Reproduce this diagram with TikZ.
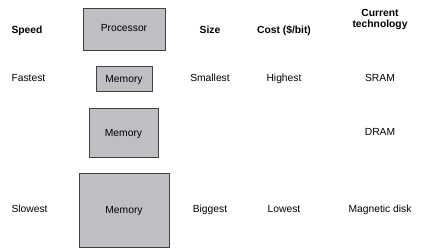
\documentclass[tikz,border=0pt]{standalone}
\usepackage{fontspec}
\setmainfont{Liberation Sans}
\definecolor{boxgray}{RGB}{191,191,195}
\tikzset{
  membox/.style={draw=black!75,fill=boxgray,line width=0.8pt,inner sep=0pt},
  head/.style={font=\fontsize{10.3}{11.5}\selectfont\bfseries,align=center,text height=7.5pt,text depth=0pt},
  lbl/.style={font=\fontsize{10.3}{12}\selectfont,text height=7.5pt,text depth=0pt}
}
\begin{document}
\begin{tikzpicture}[x=1pt,y=-1pt,line join=round]
			\useasboundingbox (0,0) rectangle (428,250);
			% boxes
			\node[membox,minimum width=82pt,minimum height=42pt] (proc) at (124,29) {};
			\node[lbl] at (proc.center) [yshift=1.5pt] {Processor};
			\node[membox,minimum width=56pt,minimum height=25pt,lbl] (memA) at (124,78.5) {Memory};
			\node[membox,minimum width=69pt,minimum height=49pt] (memB) at (123.5,132.5) {};
			\node[lbl] (memBt) at (memB.center) {Memory};
			\node[membox,minimum width=90pt,minimum height=74pt,lbl] (memC) at (124,210) {Memory};
			% column heads
			\node[head,anchor=west] (speed) at (8,30) {Speed};
			\node[head] (size) at (210,30) {Size};
			\node[head] (cost) at (284,30) {Cost (\$/bit)};
			\node[head] (tech) at (380,24) {Current\\technology};
			% rows
			\node[lbl,anchor=west] (fast) at (8,78) {Fastest};
			\node[lbl] (small) at (210,78) {Smallest};
			\node[lbl] (high) at (284,78) {Highest};
			\node[lbl] (sram) at (380,78) {SRAM};
			\node[lbl] (dram) at (380,132) {DRAM};
			\node[lbl,anchor=west] (slow) at (8,209) {Slowest};
			\node[lbl] (big) at (210,209) {Biggest};
			\node[lbl] (low) at (284,209) {Lowest};
			\node[lbl] (disk) at (380,209) {Magnetic disk};
		\end{tikzpicture}
\end{document}
